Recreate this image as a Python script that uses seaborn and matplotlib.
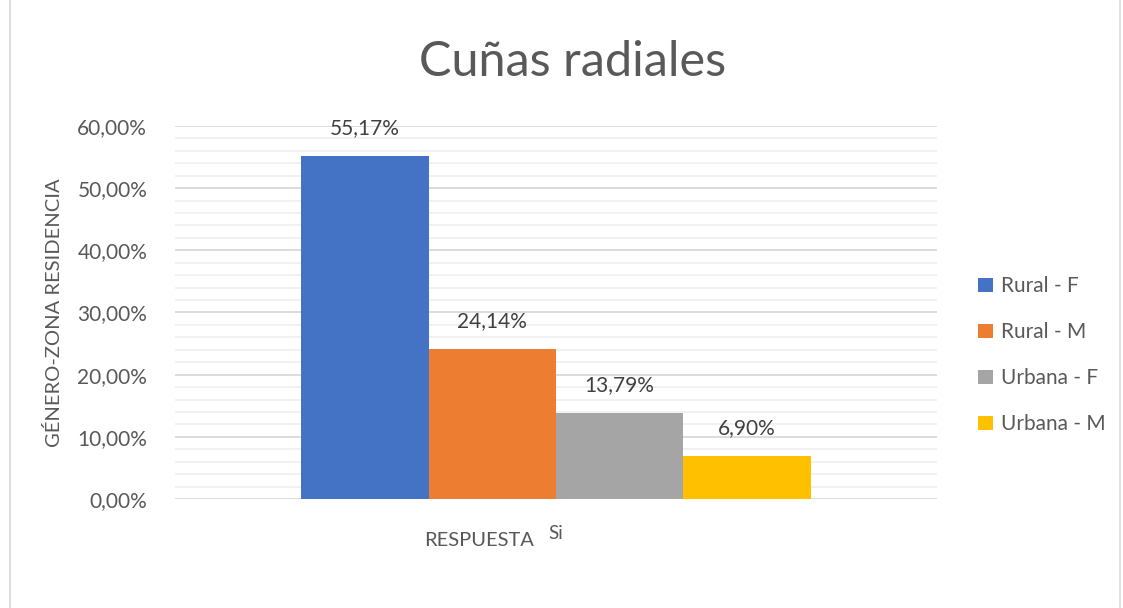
import matplotlib
matplotlib.use("Agg")
import matplotlib.pyplot as plt
import seaborn as sns
import pandas as pd
from matplotlib.ticker import MultipleLocator, FuncFormatter
from matplotlib.patches import Rectangle

categories = ["Si"]
series = ["Rural - F", "Rural - M", "Urbana - F", "Urbana - M"]
values = [0.5517, 0.2414, 0.1379, 0.0690]
colors = ["#4472C4", "#ED7D31", "#A5A5A5", "#FFC000"]
title = "Cuñas radiales"
xlabel = "RESPUESTA"
ylabel = "GÉNERO-ZONA RESIDENCIA"

df = pd.DataFrame({"respuesta": categories * len(series), "grupo": series, "valor": values})

sns.set_theme(style="white")
plt.rcParams["font.family"] = ["Lato", "DejaVu Sans"]
txt = "#595959"

fig = plt.figure(figsize=(11.23, 6.08), dpi=100)
ax = fig.add_axes([0.1558, 0.1793, 0.6786, 0.6135])

sns.barplot(data=df, x="respuesta", y="valor", hue="grupo", palette=colors,
            width=0.668, ax=ax, saturation=1, legend=True, zorder=3, linewidth=0)

ax.set_ylim(0, 0.6)
ax.set_xlim(-0.5, 0.5)
ax.yaxis.set_major_locator(MultipleLocator(0.1))
ax.yaxis.set_minor_locator(MultipleLocator(0.02))
ax.yaxis.set_major_formatter(FuncFormatter(lambda v, p: f"{v*100:.2f}%".replace(".", ",")))
ax.grid(which="major", axis="y", color="#D9D9D9", linewidth=1.3, zorder=0)
ax.grid(which="minor", axis="y", color="#EFEFEF", linewidth=1.2, zorder=0)
ax.set_axisbelow(True)
for s in ax.spines.values():
    s.set_visible(False)
ax.tick_params(axis="y", which="both", length=0, labelsize=15, labelcolor=txt, pad=20)
ax.set_xticks([])
ax.set_xlabel("")
ax.set_ylabel(ylabel, fontsize=14.5, color=txt, labelpad=10)

for c in ax.containers:
    labels = [f"{v*100:.2f}%".replace(".", ",") for v in c.datavalues]
    ax.bar_label(c, labels=labels, padding=13, fontsize=15, color="#404040")

ax.text(0.5, -0.093, categories[0], transform=ax.transAxes, ha="center", va="center",
        fontsize=13.5, color=txt)
ax.text(0.399, -0.11, xlabel, transform=ax.transAxes, ha="center", va="center",
        fontsize=14.5, color=txt)

leg = ax.legend(loc="center left", bbox_to_anchor=(1.043, 0.385), frameon=False,
                fontsize=15, labelcolor=txt, handlelength=0.7, handleheight=0.7,
                handletextpad=0.4, labelspacing=1.25, borderaxespad=0)

fig.text(0.51, 0.898, title, ha="center", va="center", fontsize=35, color=txt)

fig.patches.append(Rectangle((0.009, -0.01), 0.988, 1.02, transform=fig.transFigure,
                             fill=False, edgecolor="#D9D9D9", linewidth=1.2))

fig.savefig("out.png", dpi=100)
